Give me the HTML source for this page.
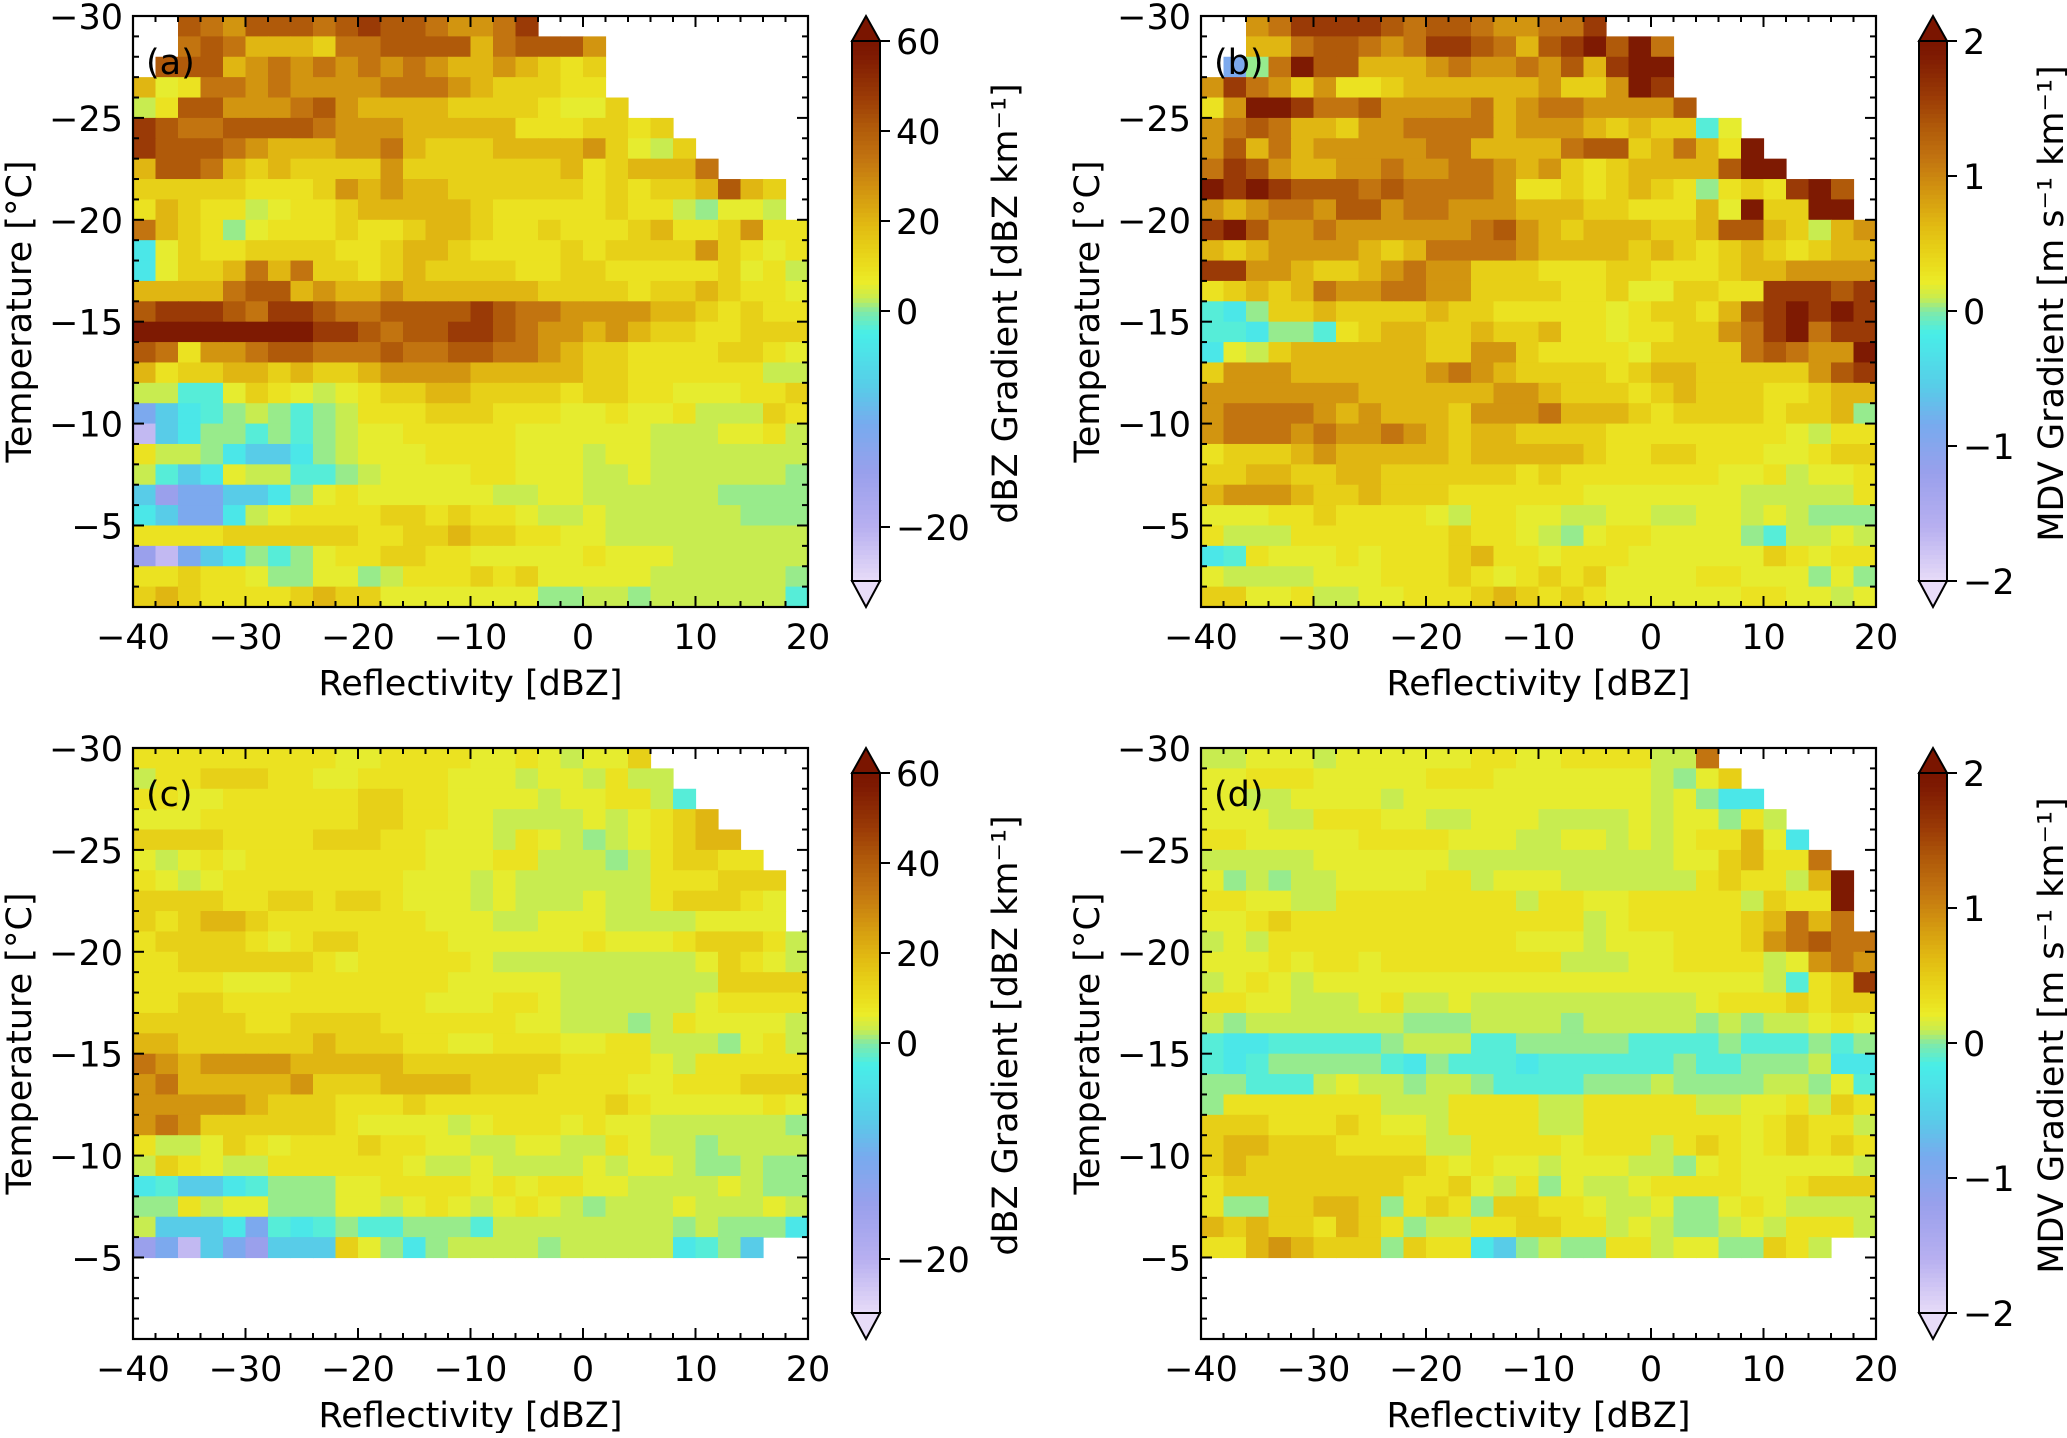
<!DOCTYPE html>
<html><head><meta charset="utf-8"><style>
html,body{margin:0;padding:0;background:#fff;}
svg text{font-family:"DejaVu Sans","Liberation Sans",sans-serif;fill:#000;}
</style></head>
<body>
<svg id="fig" xmlns="http://www.w3.org/2000/svg" width="2067" height="1433" viewBox="0 0 2067 1433"></svg>
<script>
// ---- data (level codes per cell, rows from -30 °C downward, cols from -40 dBZ in 2 dBZ bins) ----
const levelChars = ['D','d','R','r','O','o','Y','y','g','G','h','c','C','b','B','P','L'];
const dbzLevels  = [57,48,41,34,27,20,14,9,6,3,1,-1.5,-3,-7,-11,-15,-21];
const mdvLevels  = [1.9,1.6,1.37,1.13,0.9,0.67,0.47,0.3,0.2,0.1,0.03,-0.12,-0.24,-0.56,-0.88,-1.2,-1.68];
const xTicks = [-40,-30,-20,-10,0,10,20];
const yTicks = [-30,-25,-20,-15,-10,-5];
const dbzCbarTicks = [60,40,20,0,-20];
const mdvCbarTicks = [2,1,0,-1,-2];
const rowsA = [
"..RrORRRrRdRRrOOrd............",
"..rRroooYrrRRRRorRRRO.........",
".RRRoOrOrOrOrOooOoYyY.........",
"ogyrrOrOOOOrrrOoYYYyy.........",
"GyRROOOrROooooYYYYyggY........",
"dRrrRRRRrOOOoooooyyyYYyY......",
"dRRRrOoooOOroYYYooooOYgGY.....",
"oRRroYoYYYYOYYYYYYYoyYooor....",
"YYYYYyyyYOoOooYYYYYYyYyYYoRoY.",
"yoYyyGgyyYoooooYyyyyyYyyGhggG.",
"roYyhgyyyYyyYooYyyYyyyYoyyYOyy",
"CgYyyYYYYyyYooYyyyyYyYYYYOYygy",
"CgYYororYYyYoYYYYyyYYyyyyyYgyG",
"oooorRRoOooOooooooYYYYyYYoYyyg",
"RdddRrddRrrRRRRdRrrOOOOooYyYyy",
"DDDDDDDDddRrRRddRrOOoOoYYyyYYY",
"RryOOrRRrrrRrrRRrrOoYYyyyyYYyg",
"oyYYooYoYYoOOOOoooooYYyyyyyyGG",
"GGccgYygGgyYYooYYYYyYYyygggyyY",
"BbCchGhchGyyyYYYyyyggyggyGGGYy",
"LbChhchchGggyyyyyggggggGGGggyG",
"yGGhCbbChGgggyyyygggGggGGGGGGG",
"GcbCgGGcchGggggyygggGGgGGGGGGh",
"bPBBbbChgyggggggGGggGGGGGGhhhh",
"CbBBCGgyyyyYYyYyygGGgGGGGGGhhh",
"yyyyYYYYYYyyYYoYYyyggGGGGGGGGG",
"PLBbChchgyyYYyygggggygggGGGGGG",
"yyYyyghhgghGyyyYyYgggggGGGGGGh",
"YoYyyyyYoYYggggggghhGGhGGGGGGc"];
const rowsB = [
"..OrddddRrRRrOOrrd............",
"..oorRRrOrddRroRdDRDr.........",
".BhrDRRoooOrOOrORodDD.........",
"OdrOYOyyYooooooOYYODd.........",
"yODDdrrROOOOroOrrOOOOR........",
"OrRrooYOOrrrroOOOoYoYYcg......",
"ORoroOOOOOrroooorRRYoroyD.....",
"rdROooOOrOOrrOoOYyYooooRDD....",
"DdDdRRRrRrrrrOyyYyYoYyhyYydDR.",
"OoOrrORROrrOOOoooYYyyyogDYYDD.",
"dDROOrOOOOOOrROoYoooYYoRRoYGoO",
"oYoOOOOoYorrrrOooooYoYyYoYyYoo",
"ddOOoYYoOrOOYYYyyyYYyyyYooOOOO",
"yYoYorOOrrOOYYYYyyYggYYyydddRd",
"cChYYoYYYYoYYyyyyygyYYyoRdDdDd",
"ccChhcyYooYYoYYoyygyyYYOrdDrdd",
"CgGYooooooYYOOYyyyygYYYYrRrOOD",
"YOOOooooooOrOoYYYYyYooYYYYYORd",
"OOOOOOOooooooOOoYYYyYoYYYyyYoo",
"OrrrrOoOoooYOOOroooYyYYYYyYYoh",
"OrrrOrOOrOoYooYYYYyyyyyyyygGyy",
"yYYYoOoooooYoooooYyyYYyyyggyYY",
"YYooYYooYYYYYYyYyyyyyyyggyGggy",
"oOOOoYYoYYYyyyyyygggggggGGGGGy",
"gggyyYyyyygGyyggGGggGGggGgGhhh",
"yGGGyyyyyyyYyygGhgyygggghcGGgG",
"CcygggygyyyYoyygyyyggggggYygyy",
"gGGGGgggyyyYygyYyYggggyyggghgh",
"YYggyGGggyyyYoYyYyggggggyyggGg"];
const rowsC = [
"yyyyyyyyyggyyyyggygGggY.......",
"GyyYYYyyggyyyygggGggGyGG......",
"yyggyyyyyyYYyyggggGggyyGc.....",
"gggyyyyyyyYYyyggGGGGgGgyYo....",
"YYYYyyyyYYYyygggGygGhGgyYoo...",
"gGgygyyyyyyyygggyyGGGhGyYYyy..",
"ygGgyyyyyyyygggGgGGGGGGyyyYYY.",
"YYYYyyYYyYYygggGgGGGgGGyYYYyg.",
"YyYooYyyyyyyygggGGgggGGGGgggg.",
"yYYYYygyYYyyyyggggggygggyYYYyG",
"yyYYYYYYygyyyyygGGGGGGGGGgYygG",
"yyyygggyyyyyyygggggGGGGGGGYYYY",
"yyYYyyyyyyyyygggyygGGGGGGgyyyy",
"YYYYYyyYYYYyyyyyyggGGGhGyggggG",
"ooYYYYYYoYYYyyggyyyggyyGGGhgyG",
"rOoOOOOoooooYYYYYYYyyyygGyyyyy",
"OroooooOYYYooooYYYyyyyggyyyYYY",
"OOOOOoYYYyyyYyyyyyyyyYygggggyg",
"OrOYYYYYYyggggGgyyygyggGGGGGGh",
"yGGgYygyyyYyyggGGggGGygGGhGGGG",
"GYygGGyyyyyygGGgGGGGgGggGhhGhh",
"CcbbCchhhggyyyygygyyggGGGGgGhh",
"hhyGgghhhggGgygGgygGhGGGgGGGgG",
"GbbbCBcCchcchhhcGGGGGGGGhGhhhC",
"PBLbBPbbbYghChGGGGhGGGGGCchb.."];
const rowsD = [
"GGgggGggggggyyggyyyyGGr.......",
"ggyyygggggyyygggggggGhgY......",
"ggGGggggGgggggggggggGghCC.....",
"gggGGyyyggGGgggGGGGgGgghyG....",
"yygggggyyyygggGGggGgGgyyogC...",
"GGGGGggggggGGGGGGGGGGggYoyyr..",
"ghGhGGggggyyGgggGGGGGGyYyyGoD.",
"yyggGGyyyyyyyyGyyggyyyyyGYyyD.",
"ggyYyyyyyyyyyyyyyGgyyyyyYoror.",
"GgGyyyyyyyyyyygggGgggyyyYOrRrr",
"gggygyygyyyyyyyyGGGggyyyyGgOrO",
"GgygGggggggggggggggggggggGcyYd",
"yyggGGGgyGGgGGGGGGGGGGgyyyYyYY",
"GhGGGGGGGhhhGGGGhGGGGGhGhGGgyg",
"cCCccccchGGGcchhhhhcccchccchch",
"cCchhhhhcChcccCcccccchcchhhGCC",
"hhcccGgGGhGGhcccchhhGhhhhGGhgc",
"hyyyyyyyGGGyyyyGGyyyyyGGggyGYy",
"YYYyyyYyggGyyyyGGyyyyyyygyYyyG",
"YooYYYyyyyGGyyyygyyyGyYygyYyYy",
"YoYYYYYYYYygyggGgggGGhgygggggG",
"yYYYYYYYYyyYgGyhgGGgyyyyggyYYY",
"yhhYYooYhyYyhYYyygGGghhgygGGGG",
"oYoYYyoYyhGGyyYYyyGgGhhGgGyyyG",
"yyoOoYYYhYyyCbhGhhyyGgghhYyG.."];

// ---- colormap ----
const cmapStops = [
 [0.00,[232,220,248]],[0.10,[184,176,240]],[0.20,[154,160,236]],[0.29,[120,170,238]],
 [0.36,[88,204,232]],[0.46,[72,238,232]],[0.50,[128,234,168]],[0.525,[200,236,80]],
 [0.555,[236,236,40]],[0.583,[234,222,30]],[0.625,[230,204,22]],[0.667,[224,182,18]],
 [0.733,[208,144,16]],[0.783,[194,116,16]],[0.842,[176,90,10]],[0.90,[154,58,6]],
 [0.975,[126,26,2]],[1.00,[122,21,0]]];
function cmap(f){
  f=Math.max(0,Math.min(1,f));
  for(let i=1;i<cmapStops.length;i++){
    const a=cmapStops[i-1],b=cmapStops[i];
    if(f<=b[0]){const t=(f-a[0])/(b[0]-a[0]||1);
      const c=a[1].map((v,k)=>Math.round(v+(b[1][k]-v)*t));
      return 'rgb('+c.join(',')+')';}
  }
  return 'rgb(122,21,0)';
}
function normF(v,vmin,vmax){ return v>=0 ? 0.5+0.5*v/vmax : 0.5-0.5*v/vmin; }

const NS='http://www.w3.org/2000/svg';
const svg=document.getElementById('fig');
function mk(tag,attrs,parent){const e=document.createElementNS(NS,tag);for(const k in attrs)e.setAttribute(k,attrs[k]);(parent||svg).appendChild(e);return e;}
function fmt(v){return (v<0?'\u2212':'')+Math.abs(v);}

const panels=[
 {key:'a',left:133,top:16,rows:rowsA,levels:dbzLevels,vmin:-25,vmax:60,cbx:852,cticks:dbzCbarTicks,ctitle:'dBZ Gradient [dBZ km\u207B\u00B9]',ylab:18,cbtx:1004},
 {key:'b',left:1201,top:16,rows:rowsB,levels:mdvLevels,vmin:-2,vmax:2,cbx:1919,cticks:mdvCbarTicks,ctitle:'MDV Gradient [m s\u207B\u00B9 km\u207B\u00B9]',ylab:1086,cbtx:2050},
 {key:'c',left:133,top:748,rows:rowsC,levels:dbzLevels,vmin:-25,vmax:60,cbx:852,cticks:dbzCbarTicks,ctitle:'dBZ Gradient [dBZ km\u207B\u00B9]',ylab:18,cbtx:1004},
 {key:'d',left:1201,top:748,rows:rowsD,levels:mdvLevels,vmin:-2,vmax:2,cbx:1919,cticks:mdvCbarTicks,ctitle:'MDV Gradient [m s\u207B\u00B9 km\u207B\u00B9]',ylab:1086,cbtx:2050}
];
const W=675,H=591,FS=35;

panels.forEach(p=>{
  const g=mk('g',{});
  
  
  const xs=v=>p.left+(v+40)/60*W;
  const ys=t=>p.top+(t+30)/29*H;
  const cells=mk('g',{},g);
  
  
  p.rows.forEach((row,j)=>{
    for(let i=0;i<row.length;i++){
      const ch=row[i]; const li=levelChars.indexOf(ch); if(li<0) continue;
      const v=p.levels[li];
      const x0=xs(-40+2*i),x1=xs(-38+2*i),y0=ys(-30+j),y1=ys(-29+j);
      const r=mk('rect',{x:x0,y:y0,width:x1-x0+0.6,height:y1-y0+0.6,fill:cmap(normF(v,p.vmin,p.vmax))},cells);
      
      
    }
  });
  const fr=mk('rect',{x:p.left,y:p.top,width:W,height:H,fill:'none',stroke:'#000','stroke-width':2.2},g);
  
  
  const tk=mk('g',{stroke:'#000','stroke-width':2},g);
  
  
  for(let v=-40;v<=20;v+=2){
    const L=(v%10===0)?11:6, x=xs(v);
    mk('line',{x1:x,y1:p.top+H,x2:x,y2:p.top+H-L},tk);
    mk('line',{x1:x,y1:p.top,x2:x,y2:p.top+L},tk);
  }
  for(let t=-30;t<=-1;t++){
    const L=(t%5===0)?11:6, y=ys(t);
    mk('line',{x1:p.left,y1:y,x2:p.left+L,y2:y},tk);
    mk('line',{x1:p.left+W,y1:y,x2:p.left+W-L,y2:y},tk);
  }
  xTicks.forEach(v=>{
    const t=mk('text',{x:xs(v),y:p.top+H+42,'font-size':FS,'text-anchor':'middle'},g);
    t.textContent=fmt(v);
    
    
  });
  yTicks.forEach(v=>{
    const t=mk('text',{x:p.left-10,y:ys(v)+13,'font-size':FS,'text-anchor':'end'},g);
    t.textContent=fmt(v);
    
    
  });
  const xl=mk('text',{x:p.left+W/2,y:p.top+H+88,'font-size':FS,'text-anchor':'middle'},g);
  xl.textContent='Reflectivity [dBZ]';
  
  
  const yl=mk('text',{x:0,y:0,'font-size':FS,'text-anchor':'middle',transform:'translate('+(p.ylab+13)+','+(p.top+H/2)+') rotate(-90)'},g);
  yl.textContent='Temperature [\u00B0C]';
  
  
  const pl=mk('text',{x:p.left+13,y:p.top+58,'font-size':FS},g);
  pl.textContent='('+p.key+')';
  
  

  const cb=mk('g',{},g);
  
  
  const cx=p.cbx,cw=28,ctop=p.top+25,cbot=p.top+H-26,ch=cbot-ctop;
  const N=120;
  for(let k=0;k<N;k++){
    const f0=k/N;
    const r=mk('rect',{x:cx,y:cbot-(k+1)/N*ch,width:cw,height:ch/N+0.8,fill:cmap(f0+0.5/N)},cb);
    
    
  }
  mk('polygon',{points:cx+','+ctop+' '+(cx+cw/2)+','+p.top+' '+(cx+cw)+','+ctop,fill:cmap(1),stroke:'#000','stroke-width':2},cb);
  mk('polygon',{points:cx+','+cbot+' '+(cx+cw/2)+','+(p.top+H)+' '+(cx+cw)+','+cbot,fill:cmap(0),stroke:'#000','stroke-width':2},cb);
  mk('rect',{x:cx,y:ctop,width:cw,height:ch,fill:'none',stroke:'#000','stroke-width':2},cb);
  p.cticks.forEach(v=>{
    const y=cbot-normF(v,p.vmin,p.vmax)*ch;
    mk('line',{x1:cx+cw,y1:y,x2:cx+cw+10,y2:y,stroke:'#000','stroke-width':2},cb);
    const t=mk('text',{x:cx+cw+16,y:y+13,'font-size':FS},cb);
    t.textContent=fmt(v);
    
    
  });
  const ct=mk('text',{x:0,y:0,'font-size':FS,'text-anchor':'middle',transform:'translate('+(p.cbtx+13)+','+(p.top+H/2-8)+') rotate(-90)'},cb);
  ct.textContent=p.ctitle;
  
  
});
</script>
</body></html>
